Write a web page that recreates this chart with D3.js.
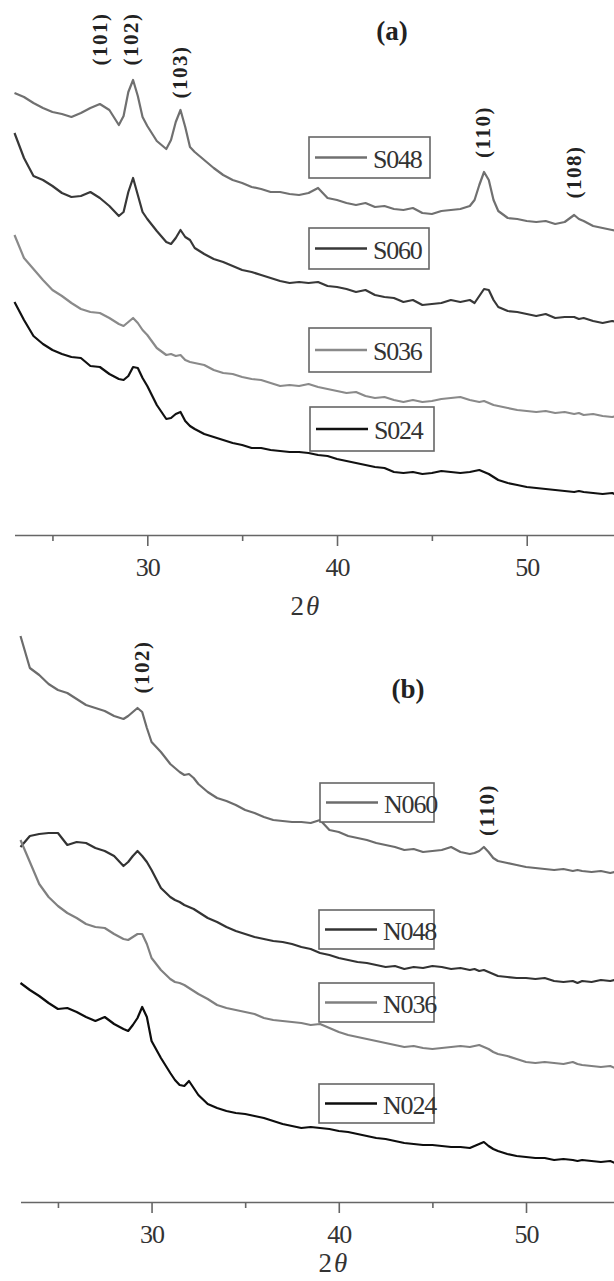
<!DOCTYPE html>
<html>
<head>
<meta charset="utf-8">
<script src="https://cdn.jsdelivr.net/npm/d3@7"></script>
<style>
  html, body { margin: 0; padding: 0; background: #fff; }
  svg { display: block; }
  text { font-family: "Liberation Serif", "DejaVu Serif", serif; }
</style>
</head>
<body>
<div id="chart"></div>
<script>
// 2theta sampling grid (denser around the reflections)
const twoTheta = [23, 23.5, 24, 24.5, 25, 25.5, 26, 26.5, 27, 27.5, 28, 28.5, 28.75, 29, 29.25, 29.5, 29.75, 30,
  30.5, 31, 31.25, 31.5, 31.75, 32, 32.25, 32.5, 33, 33.5, 34, 34.5, 35, 35.5, 36, 36.5, 37, 37.5, 38, 38.5,
  39, 39.5, 40, 40.5, 41, 41.5, 42, 42.5, 43, 43.5, 44, 44.5, 45, 45.5, 46, 46.5, 47, 47.25, 47.5, 47.75,
  48, 48.25, 48.5, 49, 49.5, 50, 50.5, 51, 51.5, 52, 52.5, 52.75, 53, 53.5, 54, 54.5, 54.75];

// panel (a) intensities, a.u. (offset stacked)
const s048 = [442, 438, 432, 427, 423, 421, 418, 422, 427, 431, 425, 410, 419, 443, 455, 439, 418, 409,
  394, 386, 395, 413, 425, 408, 388, 383, 375, 367, 360, 355, 352, 348, 346, 343, 343, 341, 340, 342,
  347, 337, 335, 332, 330, 332, 328, 329, 326, 325, 327, 322, 321, 324, 325, 326, 329, 335, 350, 363,
  355, 335, 324, 317, 316, 314, 313, 314, 311, 313, 320, 316, 314, 309, 307, 305, 304];
const s060 = [402, 377, 359, 355, 349, 342, 338, 339, 343, 337, 329, 319, 323, 343, 357, 340, 323, 316,
  304, 293, 291, 297, 305, 298, 295, 287, 281, 276, 273, 269, 265, 263, 260, 257, 254, 252, 253, 252,
  253, 249, 248, 246, 243, 245, 240, 238, 237, 233, 235, 230, 231, 232, 235, 233, 235, 232, 239, 246,
  245, 235, 228, 224, 223, 221, 219, 221, 217, 218, 218, 216, 217, 214, 212, 214, 213];
const s036 = [300, 277, 266, 255, 245, 239, 232, 226, 223, 222, 217, 211, 209, 213, 217, 212, 205, 200,
  187, 180, 181, 179, 180, 175, 173, 172, 170, 165, 162, 161, 158, 156, 155, 152, 149, 150, 149, 151,
  148, 146, 144, 142, 143, 139, 137, 138, 135, 133, 135, 133, 134, 136, 137, 138, 135, 134, 133, 134,
  132, 130, 129, 127, 125, 124, 123, 124, 122, 123, 121, 122, 120, 121, 119, 118, 119];
const s024 = [233, 215, 199, 191, 185, 181, 178, 177, 169, 168, 161, 156, 155, 159, 168, 167, 157, 149,
  130, 116, 117, 121, 123, 114, 109, 106, 101, 98, 95, 92, 90, 87, 87, 85, 84, 83, 83, 82,
  80, 79, 76, 74, 72, 70, 68, 67, 63, 62, 63, 61, 62, 64, 63, 62, 63, 64, 65, 63,
  61, 58, 55, 52, 50, 48, 47, 46, 45, 44, 43, 44, 43, 42, 41, 42, 40];

// panel (b) intensities, a.u. (offset stacked)
const n060 = [566, 534, 527, 518, 512, 509, 503, 497, 494, 491, 486, 483, 486, 490, 494, 490, 474, 460,
  450, 438, 434, 430, 427, 428, 424, 418, 410, 404, 401, 397, 392, 389, 385, 382, 381, 380, 380, 379,
  382, 372, 370, 366, 364, 362, 359, 357, 355, 352, 353, 350, 351, 352, 355, 350, 348, 349, 351, 355,
  350, 344, 341, 339, 337, 335, 334, 333, 332, 333, 331, 332, 331, 330, 331, 329, 330];
const n048 = [355, 366, 368, 369, 369, 357, 360, 359, 354, 351, 346, 336, 340, 346, 351, 346, 340, 332,
  314, 305, 302, 300, 297, 295, 293, 290, 284, 280, 275, 271, 268, 265, 263, 261, 260, 258, 255, 253,
  249, 247, 244, 242, 240, 239, 237, 235, 236, 233, 235, 234, 236, 235, 233, 234, 232, 233, 231, 232,
  230, 228, 226, 225, 224, 224, 223, 224, 221, 220, 221, 219, 221, 220, 222, 221, 222];
const n036 = [362, 340, 318, 305, 296, 289, 284, 278, 275, 274, 268, 263, 262, 265, 268, 268, 258, 244,
  232, 223, 220, 219, 217, 214, 211, 208, 203, 197, 194, 192, 190, 188, 184, 182, 181, 180, 179, 177,
  178, 174, 170, 167, 165, 163, 161, 159, 157, 155, 156, 154, 153, 154, 155, 156, 155, 156, 157, 155,
  153, 150, 148, 146, 143, 140, 139, 140, 139, 138, 140, 138, 137, 136, 135, 136, 134];
const n024 = [219, 212, 206, 199, 193, 194, 190, 185, 181, 185, 178, 173, 171, 177, 184, 195, 185, 161,
  144, 129, 122, 117, 116, 121, 114, 107, 98, 94, 91, 89, 88, 86, 84, 81, 78, 76, 74, 75,
  74, 73, 71, 70, 68, 66, 64, 63, 61, 59, 58, 57, 57, 56, 55, 55, 54, 56, 58, 60,
  56, 53, 51, 48, 46, 45, 44, 44, 42, 43, 42, 41, 42, 41, 40, 41, 39];

const seriesA = ["S048", "S060", "S036", "S024"];
const seriesB = ["N060", "N048", "N036", "N024"];
const majorTicks = [30, 40, 50];
const minorTicks = [25, 35, 45, 55];
const peaksA = [["(101)", 27.2, 39], ["(102)", 28.8, 39], ["(103)", 31.4, 72], ["(110)", 47.4, 132], ["(108)", 52.2, 172]];
const peaksB = [["(102)", 29.15, 667], ["(110)", 47.6, 810]];

const width = 614, height = 1281;

const svg = d3.select("#chart").append("svg")
  .attr("width", width)
  .attr("height", height);

svg.append("rect").attr("width", width).attr("height", height).attr("fill", "#fff");

function drawPanel(p) {
  const x = d3.scaleLinear().domain([23, p.xMax]).range([p.left, width]);
  const y = d3.scaleLinear().domain([0, 600]).range([p.axisY, p.axisY - 600]);

  const line = d3.line()
    .x((d, i) => x(twoTheta[i]))
    .y(d => y(d));

  const g = svg.append("g");

  p.series.forEach(s => {
    g.append("path")
      .datum(s.values)
      .attr("d", line)
      .attr("fill", "none")
      .attr("stroke", s.color)
      .attr("stroke-width", 2.2)
      .attr("stroke-linejoin", "round");
  });

  // minor + major ticks
  g.append("g")
    .attr("transform", `translate(0,${p.axisY})`)
    .call(d3.axisBottom(x).tickValues(minorTicks).tickSize(6).tickSizeOuter(0).tickFormat(""))
    .call(a => a.selectAll("line,path").attr("stroke", "#666").attr("stroke-width", 1.6));

  const ax = g.append("g")
    .attr("transform", `translate(0,${p.axisY})`)
    .call(d3.axisBottom(x).tickValues(majorTicks).tickSize(11).tickSizeOuter(0));
  ax.select(".domain").remove();
  ax.selectAll("line").attr("stroke", "#666").attr("stroke-width", 1.6);
  ax.selectAll("text")
    .attr("y", 41).attr("dy", null)
    .attr("font-family", "Liberation Serif")
    .attr("font-size", 26)
    .attr("letter-spacing", -1)
    .attr("fill", "#333");

  // axis title 2θ
  const t = g.append("text")
    .attr("x", p.titleX)
    .attr("y", p.axisY + p.titleDy)
    .attr("text-anchor", "middle")
    .attr("font-size", 27)
    .attr("fill", "#333");
  t.append("tspan").text("2");
  t.append("tspan").attr("font-style", "italic").attr("dx", 2).text("θ");

  // panel label
  g.append("text")
    .attr("x", p.labelPos[0]).attr("y", p.labelPos[1])
    .attr("text-anchor", "middle")
    .attr("font-weight", "bold")
    .attr("font-size", 27)
    .attr("fill", "#222")
    .text(p.label);

  // reflection labels, vertical
  p.peaks.forEach(([txt, tt, cy]) => {
    g.append("text")
      .attr("transform", `translate(${x(tt) + 6},${cy}) rotate(-90)`)
      .attr("text-anchor", "middle")
      .attr("dominant-baseline", "central")
      .attr("font-weight", "bold")
      .attr("font-size", 21)
      .attr("letter-spacing", 1.5)
      .attr("fill", "#222")
      .text(txt);
  });

  // legend boxes
  p.series.forEach(s => {
    const b = s.box;
    const lg = g.append("g").attr("transform", `translate(${b[0]},${b[1]})`);
    lg.append("rect")
      .attr("width", b[2]).attr("height", b[3])
      .attr("fill", "#fff")
      .attr("stroke", "#666")
      .attr("stroke-width", 1.6);
    lg.append("line")
      .attr("x1", 6).attr("x2", 58)
      .attr("y1", b[3] / 2).attr("y2", b[3] / 2)
      .attr("stroke", s.color)
      .attr("stroke-width", 2.4);
    lg.append("text")
      .attr("x", 64).attr("y", b[3] / 2 + 10)
      .attr("font-size", 26)
      .attr("letter-spacing", -1.2)
      .attr("fill", "#333")
      .text(s.name);
  });
}

drawPanel({
  axisY: 535, left: 14.5, xMax: 54.6,
  titleX: 305, titleDy: 80,
  label: "(a)", labelPos: [392, 40],
  peaks: peaksA,
  series: [
    { name: seriesA[0], values: s048, color: "#707070", box: [309, 137, 121, 41] },
    { name: seriesA[1], values: s060, color: "#383838", box: [309, 228, 120, 41] },
    { name: seriesA[2], values: s036, color: "#8a8a8a", box: [309, 328, 122, 44] },
    { name: seriesA[3], values: s024, color: "#111111", box: [310, 407, 124, 44] }
  ]
});

drawPanel({
  axisY: 1202, left: 20.5, xMax: 54.7,
  titleX: 333, titleDy: 70,
  label: "(b)", labelPos: [408, 698],
  peaks: peaksB,
  series: [
    { name: seriesB[0], values: n060, color: "#6c6c6c", box: [320, 783, 114, 39] },
    { name: seriesB[1], values: n048, color: "#333333", box: [319, 910, 115, 39] },
    { name: seriesB[2], values: n036, color: "#808080", box: [319, 983, 115, 39] },
    { name: seriesB[3], values: n024, color: "#0d0d0d", box: [319, 1084, 115, 39] }
  ]
});
</script>
</body>
</html>
